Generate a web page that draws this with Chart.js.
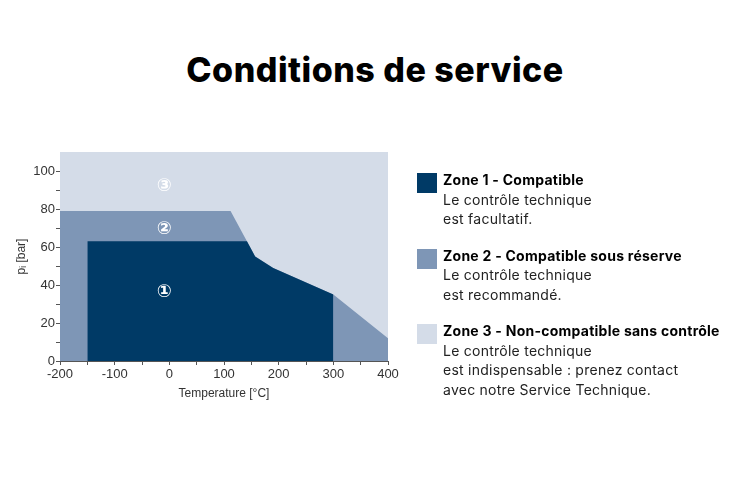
<!DOCTYPE html>
<html>
<head>
<meta charset="utf-8">
<script src="https://cdn.jsdelivr.net/npm/chart.js@4"></script>
<style>
  body { margin: 0; width: 750px; height: 493px; background: #fff; position: relative; overflow: hidden; font-family: Inter, "Noto Sans", sans-serif; }
  #chart { position: absolute; left: 0; top: 0; }
  h1 { position: absolute; left: 0; width: 750px; top: 49px; margin: 0; text-align: center; font-size: 34px; font-weight: 800; color: #000; letter-spacing: 0.5px; }
  .legend { position: absolute; left: 417px; top: 170px; }
  .item { position: relative; padding-left: 26px; margin-bottom: 17px; font-size: 14px; line-height: 19.5px; color: #222; letter-spacing: 0.25px; }
  .item b { color: #000; font-weight: 700; }
  .sw { position: absolute; left: 0; top: 3px; width: 20px; height: 20px; }
</style>
</head>
<body>
<h1>Conditions de service</h1>
<canvas id="chart" width="750" height="493"></canvas>
<div class="legend" id="legend"></div>
<script>
// zone colours
const zoneColors = ['#003a66', '#7e96b6', '#d4dce8'];

// boundary points (temperature °C, pressure bar)
const zone1Temp = [-150, 142, 157, 190, 300];
const zone1Press = [63, 63, 55, 49, 35];
const zone2Temp = [-200, 112, 157, 190, 300, 400];
const zone2Press = [79, 79, 55, 49, 35, 12];
const zone3Temp = [-200, 400];
const zone3Press = [110, 110];

// circled zone markers
const markerText = ['\u2460', '\u2461', '\u2462'];
const markerTemp = [-9, -9, -9];
const markerPress = [36, 69.5, 92];

const legendTitles = ['Zone 1 - Compatible', 'Zone 2 - Compatible sous réserve', 'Zone 3 - Non-compatible sans contrôle'];
const legendLines = [
  ['Le contrôle technique', 'est facultatif.'],
  ['Le contrôle technique', 'est recommandé.'],
  ['Le contrôle technique', 'est indispensable : prenez contact', 'avec notre Service Technique.']
];

function toPoints(xs, ys) {
  return xs.map((x, i) => ({ x: x, y: ys[i] }));
}

function zoneDataset(xs, ys, color, order) {
  return {
    data: toPoints(xs, ys),
    showLine: true,
    fill: 'origin',
    backgroundColor: color,
    borderWidth: 0,
    borderColor: color,
    pointRadius: 0,
    tension: 0,
    order: order
  };
}

// draws the circled numbers inside the zones
const markerPlugin = {
  id: 'markers',
  afterDatasetsDraw(chart) {
    const { ctx, scales } = chart;
    ctx.save();
    ctx.fillStyle = '#fff';
    ctx.font = 'bold 18px "DejaVu Sans", "Noto Sans CJK JP"';
    ctx.textAlign = 'center';
    ctx.textBaseline = 'middle';
    markerText.forEach((t, i) => {
      ctx.fillText(t, scales.x.getPixelForValue(markerTemp[i]), scales.y.getPixelForValue(markerPress[i]));
    });
    ctx.restore();
  }
};

const tickFont = { family: 'Liberation Sans, Arial, sans-serif', size: 13 };

new Chart(document.getElementById('chart'), {
  type: 'scatter',
  data: {
    datasets: [
      zoneDataset(zone1Temp, zone1Press, zoneColors[0], 1),
      zoneDataset(zone2Temp, zone2Press, zoneColors[1], 2),
      zoneDataset(zone3Temp, zone3Press, zoneColors[2], 3)
    ]
  },
  options: {
    responsive: false,
    animation: false,
    layout: { padding: { left: 0, top: 152, right: 362, bottom: 92 } },
    plugins: { legend: { display: false }, tooltip: { enabled: false } },
    scales: {
      x: {
        type: 'linear',
        min: -200,
        max: 400,
        afterFit(scale) { scale.height = 40; },
        border: { color: '#555', width: 1 },
        grid: { drawOnChartArea: false, tickLength: 4, color: '#555' },
        ticks: {
          stepSize: 50,
          padding: 2,
          color: '#333',
          font: tickFont,
          maxRotation: 0,
          autoSkip: false,
          callback: (v) => (v % 100 === 0 ? v : '')
        },
        title: { display: true, text: 'Temperature [°C]', color: '#333', font: { family: 'Liberation Sans, Arial, sans-serif', size: 12 }, padding: { top: 2, bottom: 0 } }
      },
      y: {
        type: 'linear',
        min: 0,
        max: 110,
        afterFit(scale) { scale.width = 60; },
        border: { color: '#555', width: 1 },
        grid: {
          drawOnChartArea: false,
          tickLength: 4,
          color: (c) => (c.tick && c.tick.value > 100 ? 'rgba(0,0,0,0)' : '#555')
        },
        ticks: {
          stepSize: 10,
          padding: 1,
          color: '#333',
          font: tickFont,
          autoSkip: false,
          callback: (v) => (v % 20 === 0 && v <= 100 ? v : '')
        },
        title: { display: true, text: 'p\u1D62 [bar]', color: '#333', font: { family: 'Liberation Sans, Arial, sans-serif', size: 12 }, padding: { top: 14, bottom: 0 } }
      }
    }
  },
  plugins: [markerPlugin]
});

// legend built from the same colours and texts
const legend = document.getElementById('legend');
legendTitles.forEach((title, i) => {
  const div = document.createElement('div');
  div.className = 'item';
  div.innerHTML = '<span class="sw" style="background:' + zoneColors[i] + '"></span><b>' + title + '</b><br>' + legendLines[i].join('<br>');
  legend.appendChild(div);
});
</script>
</body>
</html>
